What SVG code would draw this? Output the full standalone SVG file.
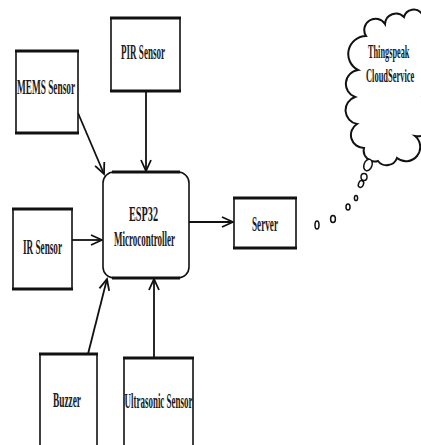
<svg xmlns="http://www.w3.org/2000/svg" width="421" height="445" viewBox="0 0 421 445">
<style>
.box{fill:#fff;stroke:#111;stroke-width:1.6}
.thick{stroke:#111;stroke-width:3.2}
.lbl{font-family:"Liberation Serif","Times New Roman",serif;font-weight:bold;font-size:20px;fill:#1a1a1a;text-anchor:middle}
.cl{font-family:"Liberation Serif","Times New Roman",serif;font-weight:bold;font-size:18px;fill:#1a1a1a}
.conn{stroke:#111;stroke-width:1.8;fill:none}
.bub{fill:#fff;stroke:#111;stroke-width:1.5}
</style>
<defs>
<marker id="arr" markerUnits="userSpaceOnUse" markerWidth="14" markerHeight="14" viewBox="-12 -7 14 14" refX="0" refY="0" orient="auto">
<path d="M-11,-5 L0,0 L-11,5" fill="none" stroke="#111" stroke-width="1.8"/>
</marker>
</defs>
<rect width="421" height="445" fill="#fff"/>
<g id="connectors">
<line class="conn" x1="78" y1="113" x2="104" y2="174" marker-end="url(#arr)"/>
<line class="conn" x1="146" y1="91" x2="146" y2="171" marker-end="url(#arr)"/>
<line class="conn" x1="72" y1="240" x2="102" y2="240" marker-end="url(#arr)"/>
<line class="conn" x1="88" y1="354" x2="107" y2="279" marker-end="url(#arr)"/>
<line class="conn" x1="154" y1="358" x2="154" y2="279" marker-end="url(#arr)"/>
<line class="conn" x1="189" y1="222" x2="233" y2="222" stroke-width="3" marker-end="url(#arr)"/>
</g>
<g id="pir">
<rect class="box" x="111" y="18" width="69" height="73"/>
<line class="thick" x1="110" y1="18" x2="181" y2="18"/>
<line class="thick" x1="110" y1="91" x2="181" y2="91"/>
<text class="lbl" x="143" y="59" textLength="44" lengthAdjust="spacingAndGlyphs">PIR Sensor</text>
</g>
<g id="mems">
<rect class="box" x="16" y="51" width="62" height="82"/>
<line class="thick" x1="15" y1="51" x2="79" y2="51"/>
<line class="thick" x1="15" y1="133" x2="79" y2="133"/>
<text class="lbl" x="46" y="94" textLength="58" lengthAdjust="spacingAndGlyphs">MEMS Sensor</text>
</g>
<g id="ir">
<rect class="box" x="13" y="209" width="59" height="80"/>
<line class="thick" x1="12" y1="209" x2="73" y2="209"/>
<line class="thick" x1="12" y1="289" x2="73" y2="289"/>
<text class="lbl" x="42.5" y="254" textLength="39" lengthAdjust="spacingAndGlyphs">IR Sensor</text>
</g>
<g id="esp32">
<rect class="box" x="103" y="172" width="86" height="106" rx="11" stroke-width="2"/>
<line class="thick" x1="112" y1="172" x2="180" y2="172"/>
<line class="thick" x1="112" y1="278" x2="180" y2="278"/>
<text class="lbl" x="143.5" y="221" textLength="29" lengthAdjust="spacingAndGlyphs">ESP32</text>
<text class="lbl" x="144.5" y="246" textLength="61" lengthAdjust="spacingAndGlyphs">Microcontroller</text>
</g>
<g id="server">
<rect class="box" x="234" y="198" width="62" height="50"/>
<line class="thick" x1="233" y1="198" x2="297" y2="198"/>
<line class="thick" x1="233" y1="248" x2="297" y2="248"/>
<text class="lbl" x="265" y="231" textLength="26" lengthAdjust="spacingAndGlyphs">Server</text>
</g>
<g id="buzzer">
<rect class="box" x="40" y="354" width="57" height="100"/>
<line class="thick" x1="39" y1="354" x2="98" y2="354"/>
<text class="lbl" x="67" y="407" textLength="28" lengthAdjust="spacingAndGlyphs">Buzzer</text>
</g>
<g id="ultrasonic">
<rect class="box" x="124" y="358" width="69" height="100"/>
<line class="thick" x1="123" y1="358" x2="194" y2="358"/>
<text class="lbl" x="158.5" y="408" textLength="68" lengthAdjust="spacingAndGlyphs">Ultrasonic Sensor</text>
</g>
<g id="cloud">
<path fill="#fff" stroke="#111" stroke-width="2" d="M366,36 A10 10 0 0 1 385,24 A11 11 0 0 1 404,17 A10 10 0 0 1 422,14 A12 12 0 0 1 430,40 L430,70 A14 14 0 0 1 421,96 A20 20 0 0 1 415,136 A14 14 0 0 1 397,158 A11 11 0 0 1 378,161 A11 11 0 0 1 364,148 A13 13 0 0 1 357,124 A14 14 0 0 1 355,97 A14 14 0 0 1 358,70 A18 18 0 0 1 366,36 Z"/>
<text class="cl" transform="translate(368 58) scale(0.46 1)">Thingspeak</text>
<text class="cl" transform="translate(366 82) scale(0.47 1)">CloudService</text>
<ellipse class="bub" cx="368" cy="165" rx="4" ry="6" transform="rotate(20 368 165)"/>
<ellipse class="bub" cx="364" cy="177" rx="3" ry="3.5"/>
<ellipse class="bub" cx="361" cy="184" rx="2.5" ry="3.5" transform="rotate(20 361 184)"/>
<ellipse class="bub" cx="356" cy="198" rx="1.6" ry="2.6"/>
<ellipse class="bub" cx="348" cy="207" rx="2" ry="3"/>
<ellipse class="bub" cx="333" cy="219" rx="2.4" ry="3.6"/>
<ellipse class="bub" cx="317" cy="225" rx="2" ry="4"/>
</g>
</svg>
